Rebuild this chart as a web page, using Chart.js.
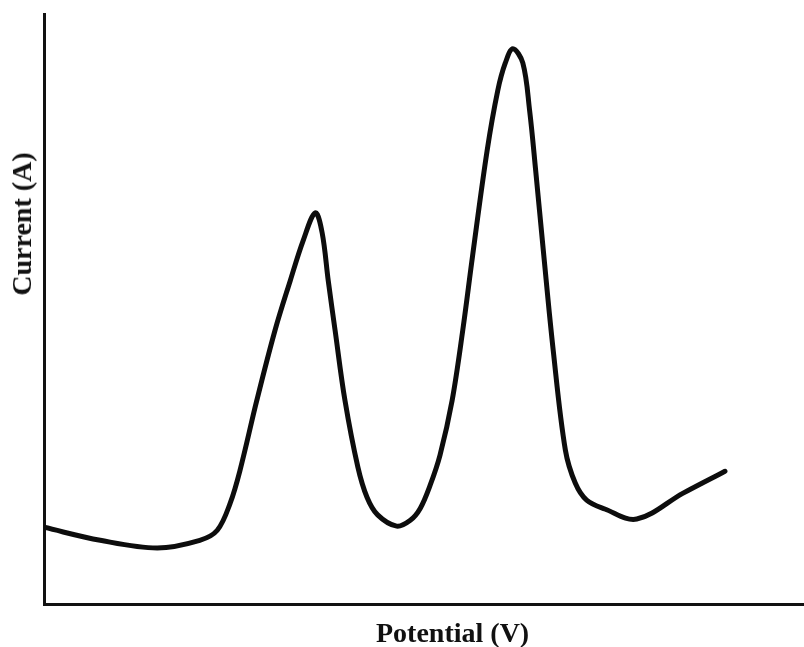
<!DOCTYPE html>
<html>
<head>
<meta charset="utf-8">
<script src="https://cdn.jsdelivr.net/npm/chart.js@4.4.1/dist/chart.umd.min.js"></script>
<style>
  html, body { margin: 0; padding: 0; background: #fff; }
  #wrap { position: relative; width: 804px; height: 647px; }
  canvas { position: absolute; left: 0; top: 0; }
  .lbl { position: absolute; font-family: "Liberation Serif", "Times New Roman", serif; font-weight: bold; font-size: 28px; color: #111; white-space: nowrap; line-height: 1; }
  #xlbl { left: 376px; top: 619px; }
  #ylbl { left: 22px; top: 224px; transform: translate(-50%, -50%) rotate(-90deg); }
</style>
</head>
<body>
<div id="wrap">
  <canvas id="c" width="804" height="647"></canvas>
  <div class="lbl" id="xlbl">Potential (V)</div>
  <div class="lbl" id="ylbl">Current (A)</div>
</div>
<script>
// Potential (arbitrary units, 0–100 across the axis)
const potential = [0, 7.4, 14.9, 20.5, 22.8, 24.5, 25.8, 28.0, 30.4, 32.4, 34.1, 35.7, 36.6, 37.4, 38.3, 39.6, 41.3, 42.5, 43.9, 46.4, 48.2, 49.5, 50.8, 52.1, 53.7, 55.1, 56.4, 58.3, 59.7, 60.7, 61.7, 63.0, 63.9, 64.7, 65.7, 67.0, 68.6, 69.9, 71.4, 73.8, 78.0, 84.1, 89.6];
// Current (arbitrary units, 0–100 up the axis)
const current = [13.0, 10.8, 9.5, 10.8, 12.5, 17.1, 22.7, 34.5, 46.4, 54.8, 61.6, 66.3, 62.9, 54.8, 46.4, 34.5, 23.2, 18.1, 15.1, 13.2, 14.2, 16.2, 20.1, 25.2, 34.5, 46.4, 59.1, 76.8, 87.0, 91.7, 94.1, 91.7, 83.6, 73.4, 59.9, 43.0, 26.1, 20.5, 17.6, 16.1, 14.4, 18.8, 22.5];

const points = potential.map((x, i) => ({ x: x, y: current[i] }));

new Chart(document.getElementById('c'), {
  type: 'line',
  data: {
    datasets: [{
      data: points,
      borderColor: '#0d0d0d',
      borderWidth: 5,
      pointRadius: 0,
      fill: false,
      tension: 0.35,
      borderCapStyle: 'round',
      borderJoinStyle: 'round'
    }]
  },
  options: {
    responsive: false,
    animation: false,
    layout: { padding: { left: 44, top: 14, right: 0, bottom: 43 } },
    plugins: { legend: { display: false }, tooltip: { enabled: false } },
    scales: {
      x: {
        type: 'linear', min: 0, max: 100,
        ticks: { display: false },
        grid: { display: false, drawTicks: false },
        border: { display: true, color: '#111', width: 3 }
      },
      y: {
        type: 'linear', min: 0, max: 100,
        ticks: { display: false },
        grid: { display: false, drawTicks: false },
        border: { display: true, color: '#111', width: 3 }
      }
    }
  }
});
</script>
</body>
</html>
